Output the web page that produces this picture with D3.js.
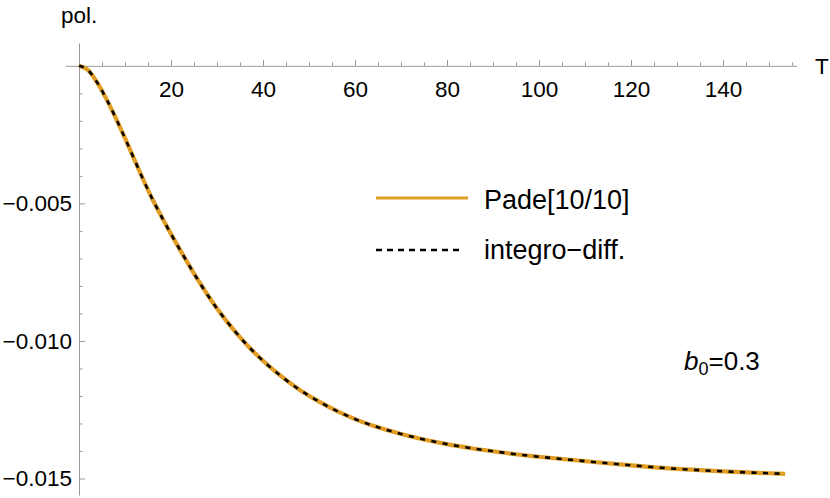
<!DOCTYPE html>
<html>
<head>
<meta charset="utf-8">
<script src="https://cdn.jsdelivr.net/npm/d3@7"></script>
<style>
  body { margin: 0; background: #fff; }
  svg { display: block; font-family: "Liberation Sans", Arial, sans-serif; }
  .axis path, .axis line { stroke: #999; stroke-width: 1; }
  .axis text { fill: #000; font-size: 22.5px; font-family: "Liberation Sans", Arial, sans-serif; }
</style>
</head>
<body>
<div id="chart"></div>
<script>
// curve: T and pol. (both series lie on top of each other)
var T_values = [0, 2, 4, 6, 8, 10, 12, 14, 16, 18, 20, 22, 24, 26, 28, 30, 32, 34, 36,
                38, 40, 44, 48, 52, 56, 60, 65, 70, 75, 80, 85, 90, 95, 100, 110, 120,
                130, 140, 150, 153.5];
var pade_values = [0, -0.00016, -0.00062, -0.00122, -0.0019, -0.00263, -0.00339, -0.00415,
                   -0.00486, -0.0055, -0.00611, -0.0067, -0.00727, -0.00782, -0.00834,
                   -0.00882, -0.00926, -0.00967, -0.01005, -0.0104, -0.01072, -0.01129,
                   -0.01178, -0.01219, -0.01254, -0.01284, -0.01314, -0.01338, -0.01358,
                   -0.01375, -0.01389, -0.01401, -0.01412, -0.01421, -0.01437, -0.01452,
                   -0.01465, -0.01474, -0.01481, -0.01483];
var integro_values = pade_values.slice();

var x_ticks = [20, 40, 60, 80, 100, 120, 140];
var y_ticks = [-0.005, -0.010, -0.015];
var series_names = ["Pade[10/10]", "integro\u2212diff."];

var width = 830;
var height = 498;
var orange = "#e19c24";

var svg = d3.select("#chart").append("svg")
    .attr("width", width)
    .attr("height", height);

var x = d3.scaleLinear().domain([-3, 156]).range([65.2, 796.6]);
var y = d3.scaleLinear().domain([0.00083, -0.0156]).range([43, 495]);

// x axis: minor ticks every 5, labels every 20, ticks point up
var x_minor = d3.range(0, 156, 5);
svg.append("g")
    .attr("class", "axis")
    .attr("transform", "translate(0," + y(0) + ")")
    .call(d3.axisBottom(x).tickValues(x_minor.filter(function(d) { return d % 20 != 0; }))
        .tickSizeInner(-3.5).tickSizeOuter(0).tickFormat(""));
svg.append("g")
    .attr("class", "axis")
    .attr("transform", "translate(0," + y(0) + ")")
    .call(d3.axisBottom(x).tickValues(x_ticks)
        .tickSizeInner(-6).tickSizeOuter(0).tickPadding(15))
    .select(".domain").remove();

// y axis: minor ticks every 0.001, ticks point right
var y_minor = d3.range(1, 16).map(function(d) { return -d / 1000; });
svg.append("g")
    .attr("class", "axis")
    .attr("transform", "translate(" + x(0) + ",0)")
    .call(d3.axisLeft(y).tickValues(y_minor.filter(function(d, i) { return (i + 1) % 5 != 0; }))
        .tickSizeInner(-3.5).tickSizeOuter(0).tickFormat(""));
svg.append("g")
    .attr("class", "axis")
    .attr("transform", "translate(" + x(0) + ",0)")
    .call(d3.axisLeft(y).tickValues(y_ticks)
        .tickSizeInner(-6).tickSizeOuter(0).tickPadding(7).tickFormat(d3.format(".3f")))
    .select(".domain").remove();

// axis labels
svg.append("text")
    .attr("x", 61)
    .attr("y", 23)
    .style("font-size", "22.5px")
    .text("pol.");
svg.append("text")
    .attr("x", 815)
    .attr("y", 74)
    .style("font-size", "22.5px")
    .text("T");

// curves
var zipped_pade = d3.zip(T_values, pade_values);
var zipped_integro = d3.zip(T_values, integro_values);
var line = d3.line()
    .x(function(d) { return x(d[0]); })
    .y(function(d) { return y(d[1]); })
    .curve(d3.curveMonotoneX);

svg.append("path")
    .datum(zipped_pade)
    .attr("fill", "none")
    .attr("stroke", orange)
    .attr("stroke-width", 4.2)
    .attr("d", line);

svg.append("path")
    .datum(zipped_integro)
    .attr("fill", "none")
    .attr("stroke", "#000")
    .attr("stroke-width", 2.6)
    .attr("stroke-dasharray", "5,6.5")
    .attr("d", line);

// legend
var legend = svg.append("g").attr("transform", "translate(376,0)");
legend.append("line")
    .attr("x1", 0).attr("x2", 92)
    .attr("y1", 198).attr("y2", 198)
    .attr("stroke", orange)
    .attr("stroke-width", 3);
legend.append("text")
    .attr("x", 108)
    .attr("y", 209)
    .style("font-size", "27px")
    .text(series_names[0]);
legend.append("line")
    .attr("x1", 0).attr("x2", 86)
    .attr("y1", 250).attr("y2", 250)
    .attr("stroke", "#000")
    .attr("stroke-width", 2.6)
    .attr("stroke-dasharray", "6,5");
legend.append("text")
    .attr("x", 108)
    .attr("y", 259)
    .style("font-size", "27px")
    .text(series_names[1]);

// b0 annotation
var note = svg.append("text")
    .attr("x", 684)
    .attr("y", 370)
    .style("font-size", "26px");
note.append("tspan").style("font-style", "italic").text("b");
note.append("tspan").attr("dy", 5).style("font-size", "18px").text("0");
note.append("tspan").attr("dy", -5).text("=0.3");
</script>
</body>
</html>
